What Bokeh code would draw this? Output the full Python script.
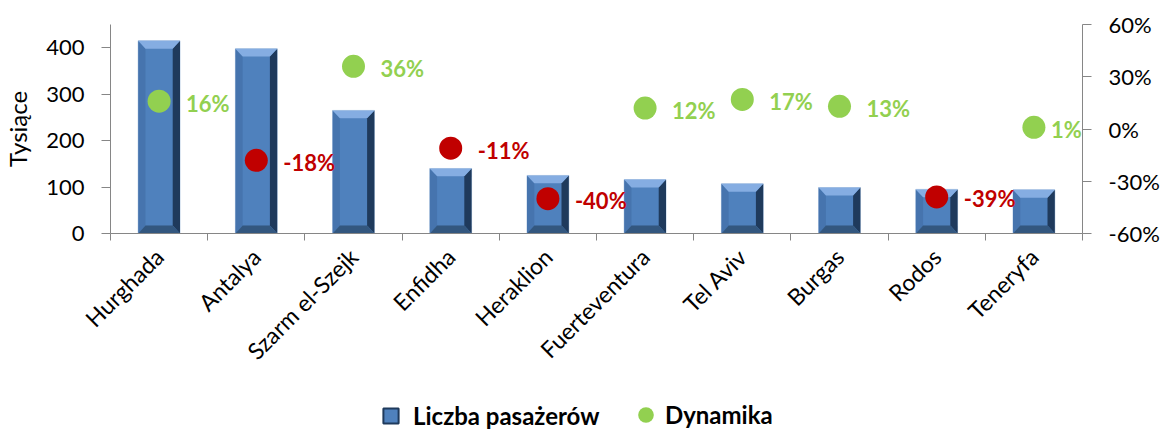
import math
from bokeh.plotting import figure
from bokeh.layouts import column
from bokeh.models import (Range1d, LinearAxis, FixedTicker, PrintfTickFormatter,
                          ColumnDataSource, Legend, LegendItem)
from bokeh.core.properties import value
from bokeh.embed import file_html
from bokeh.resources import INLINE

categories = ["Hurghada", "Antalya", "Szarm el-Szejk", "Enfidha", "Heraklion",
              "Fuerteventura", "Tel Aviv", "Burgas", "Rodos", "Teneryfa"]
passengers = [415, 398, 265, 140, 125, 116, 107, 99, 95, 94]   # thousands
dynamics = [16, -18, 36, -11, -40, 12, 17, 13, -39, 1]           # percent
left_ticks = [0, 100, 200, 300, 400]
right_ticks = [-60, -30, 0, 30, 60]
legend_labels = ["Liczba pasażerów", "Dynamika"]

FONT = "Lato"
GREEN = "#92D050"
RED = "#C00000"
AXIS = "#868686"
BAR = "#4F81BD"

W, H, HL = 1162, 394, 40
p = figure(width=W, height=H, x_range=Range1d(0, 10), y_range=Range1d(0, 450),
           x_axis_location=None, y_axis_location=None,
           output_backend="svg", toolbar_location=None,
           min_border_left=110, min_border_right=W - 1083, min_border_top=24,
           min_border_bottom=H - 233)
p.extra_y_ranges = {"pct": Range1d(-60, 60)}
p.xgrid.visible = False
p.ygrid.visible = False
p.outline_line_color = None

n = len(categories)
xc = [i + 0.5 for i in range(n)]
hw = 0.215
bx = 0.075   # bevel in x units
by = 17      # bevel in y units

# bars (bevelled)
left = [x - hw for x in xc]
right = [x + hw for x in xc]
src = ColumnDataSource(dict(x=xc, top=passengers, left=left, right=right))
p.quad(left="left", right="right", top="top", bottom=0, source=src,
       fill_color=BAR, line_color="#B9CDE5", line_width=1)

def faces(kind):
    xs, ys = [], []
    for l, r, t in zip(left, right, passengers):
        if kind == "top":
            xs.append([l, r, r - bx, l + bx]); ys.append([t, t, t - by, t - by])
        elif kind == "bottom":
            xs.append([l, r, r - bx, l + bx]); ys.append([0, 0, by, by])
        elif kind == "left":
            xs.append([l, l + bx, l + bx, l]); ys.append([0, by, t - by, t])
        else:
            xs.append([r, r - bx, r - bx, r]); ys.append([0, by, t - by, t])
    return xs, ys

for kind, col in [("left", "#4674AE"), ("right", "#1F3A5C"),
                  ("bottom", "#33577F"), ("top", "#85ADE2")]:
    xs, ys = faces(kind)
    p.patches(xs=xs, ys=ys, fill_color=col, line_color=None)

# dots
gi = [i for i, d in enumerate(dynamics) if d >= 0]
ri = [i for i, d in enumerate(dynamics) if d < 0]

def label_src(idx):
    # last label nudged left so it stays inside the plot frame
    return ColumnDataSource(dict(
        x=[xc[i] for i in idx], y=[dynamics[i] for i in idx],
        t=[f"{dynamics[i]}%" for i in idx],
        dx=[17 if i == n - 1 else 27 for i in idx]))

gsrc = label_src(gi)
rsrc = label_src(ri)
p.scatter("x", "y", source=gsrc, y_range_name="pct", size=23,
          fill_color=GREEN, line_color=None)
p.scatter("x", "y", source=rsrc, y_range_name="pct", size=23,
          fill_color=RED, line_color=None)
for s, c in [(gsrc, GREEN), (rsrc, RED)]:
    p.text("x", "y", text="t", source=s, y_range_name="pct", x_offset="dx", y_offset=2,
           text_color=c, text_font=value(FONT), text_font_style="bold",
           text_font_size="22px", text_baseline="middle", text_align="left")

# axes
ly = LinearAxis(ticker=FixedTicker(ticks=left_ticks), axis_label="Tysiące")
ry = LinearAxis(y_range_name="pct", ticker=FixedTicker(ticks=right_ticks),
                formatter=PrintfTickFormatter(format="%d%%"))
bxax = LinearAxis(ticker=FixedTicker(ticks=xc, minor_ticks=list(range(n + 1))),
                  major_label_overrides={x: c for x, c in zip(xc, categories)},
                  major_label_orientation=math.pi / 4)
for ax in (ly, ry, bxax):
    ax.axis_line_color = AXIS
    ax.major_tick_line_color = AXIS
    ax.minor_tick_line_color = None
    ax.major_tick_out = 9
    ax.major_tick_in = 0
    ax.major_label_text_font = FONT
    ax.major_label_text_font_size = "22px"
    ax.major_label_text_color = "black"
    ax.major_label_standoff = 17
bxax.major_tick_out = 0
bxax.minor_tick_line_color = AXIS
bxax.minor_tick_out = 7
bxax.minor_tick_in = 0
bxax.major_label_standoff = 12
bxax.major_label_text_font_size = "23px"
ly.axis_label_text_font = FONT
ly.axis_label_text_font_size = "24px"
ly.axis_label_text_font_style = "normal"
ly.axis_label_text_color = "black"
ly.axis_label_standoff = 11
p.add_layout(ly, "left")
p.add_layout(ry, "right")
p.add_layout(bxax, "below")

# legend strip below the chart (hidden proxy renderers provide the legend glyphs)
lf = figure(width=W, height=HL, x_range=Range1d(0, 10), y_range=Range1d(0, 450),
            output_backend="svg", toolbar_location=None, min_border=0,
            x_axis_location=None, y_axis_location=None)
lf.xgrid.visible = False
lf.ygrid.visible = False
lf.outline_line_color = None
bar_r = lf.quad(left="left", right="right", top="top", bottom=0, source=src,
                fill_color=BAR, line_color="#1F3A5C", line_width=2, visible=False)
dot_r = lf.scatter("x", "y", source=gsrc, fill_color=GREEN, line_color=None,
                   visible=False)

common = dict(orientation="horizontal", label_text_font=FONT,
              label_text_font_style="bold", label_text_font_size="24px",
              label_text_color="black", click_policy="none",
              padding=0, margin=0, border_line_color=None,
              background_fill_alpha=0, label_text_baseline="middle")
leg_a = Legend(items=[LegendItem(label=legend_labels[0], renderers=[bar_r], index=0)],
               location=(271, 4), glyph_width=19, glyph_height=19,
               label_standoff=13, **common)
leg_b = Legend(items=[LegendItem(label=legend_labels[1], renderers=[dot_r], index=0)],
               location=(516, 0), glyph_width=39, glyph_height=39,
               label_standoff=0, **common)
lf.add_layout(leg_a, "center")
lf.add_layout(leg_b, "center")

open("out.html", "w").write(file_html(column(p, lf, spacing=0), INLINE))
